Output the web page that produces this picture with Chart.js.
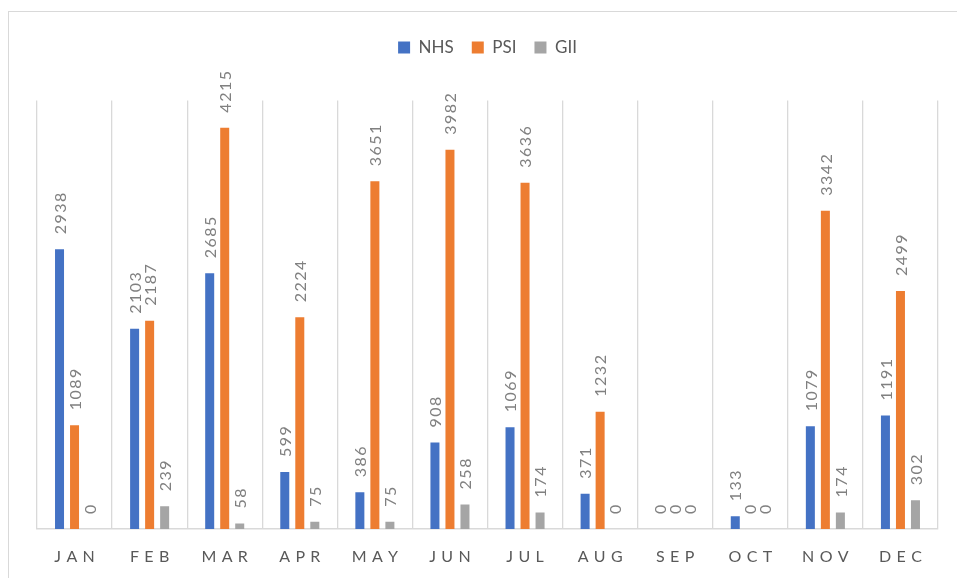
<!DOCTYPE html>
<html>
<head>
<meta charset="utf-8">
<script src="https://cdn.jsdelivr.net/npm/chart.js@4/dist/chart.umd.min.js"></script>
<style>
  body { margin: 0; background: #fff; }
  #frame { position: absolute; left: 8px; top: 11px; width: 970px; height: 600px; border: 1.5px solid #d9d9d9; }
  #wrap { position: absolute; left: 0; top: 0; width: 957px; height: 578px; }
</style>
</head>
<body>
<div id="frame"></div>
<div id="wrap"><canvas id="monthChart"></canvas></div>
<script>
// Chart data
const months = ['JAN', 'FEB', 'MAR', 'APR', 'MAY', 'JUN', 'JUL', 'AUG', 'SEP', 'OCT', 'NOV', 'DEC'];
const nhsValues = [2938, 2103, 2685, 599, 386, 908, 1069, 371, 0, 133, 1079, 1191];
const psiValues = [1089, 2187, 4215, 2224, 3651, 3982, 3636, 1232, 0, 0, 3342, 2499];
const giiValues = [0, 239, 58, 75, 75, 258, 174, 0, 0, 0, 174, 302];

const FONT = 'Lato, "Open Sans", sans-serif';

// Draw rotated value labels above every bar
const valueLabels = {
    id: 'valueLabels',
    afterDatasetsDraw(chart) {
        const ctx = chart.ctx;
        ctx.save();
        ctx.font = '16px ' + FONT;
        ctx.fillStyle = '#808080';
        ctx.textAlign = 'left';
        ctx.textBaseline = 'middle';
        ctx.letterSpacing = '1.5px';
        chart.data.datasets.forEach((ds, i) => {
            chart.getDatasetMeta(i).data.forEach((bar, j) => {
                ctx.save();
                ctx.translate(bar.x + 1, bar.y - 15);
                ctx.rotate(-Math.PI / 2);
                ctx.fillText(String(ds.data[j]), 0, 0);
                ctx.restore();
            });
        });
        ctx.restore();
    }
};

const ctx = document.getElementById('monthChart').getContext('2d');
new Chart(ctx, {
    type: 'bar',
    data: {
        labels: months,
        datasets: [
            { label: 'NHS', data: nhsValues, backgroundColor: '#4472C4' },
            { label: 'PSI', data: psiValues, backgroundColor: '#ED7D31' },
            { label: 'GII', data: giiValues, backgroundColor: '#A5A5A5' }
        ]
    },
    options: {
        responsive: true,
        maintainAspectRatio: false,
        animation: false,
        categoryPercentage: 0.6,
        barPercentage: 0.6,
        layout: { padding: { top: 21, left: 37, right: 19, bottom: 0 } },
        plugins: {
            legend: {
                position: 'top',
                labels: {
                    boxWidth: 12,
                    boxHeight: 12,
                    padding: 18,
                    color: '#595959',
                    font: { family: FONT, size: 17 }
                }
            },
            tooltip: { enabled: false }
        },
        scales: {
            x: {
                grid: { color: '#d9d9d9', lineWidth: 1.3, drawTicks: false, offset: true },
                border: { color: '#d9d9d9', width: 1.5 },
                ticks: {
                    padding: 18,
                    color: '#595959',
                    font: { family: FONT, size: 16 },
                    callback: function (value) {
                        return this.getLabelForValue(value).split('').join('\u2004');
                    }
                },
                afterFit: (scale) => { scale.height = 49; }
            },
            xTop: {
                type: 'category',
                position: 'top',
                labels: months,
                grid: { display: false },
                border: { display: false },
                ticks: { display: false },
                afterFit: (scale) => { scale.height = 34.5; }
            },
            y: {
                display: false,
                min: 0,
                max: 4500
            }
        }
    },
    plugins: [valueLabels]
});
</script>
</body>
</html>
